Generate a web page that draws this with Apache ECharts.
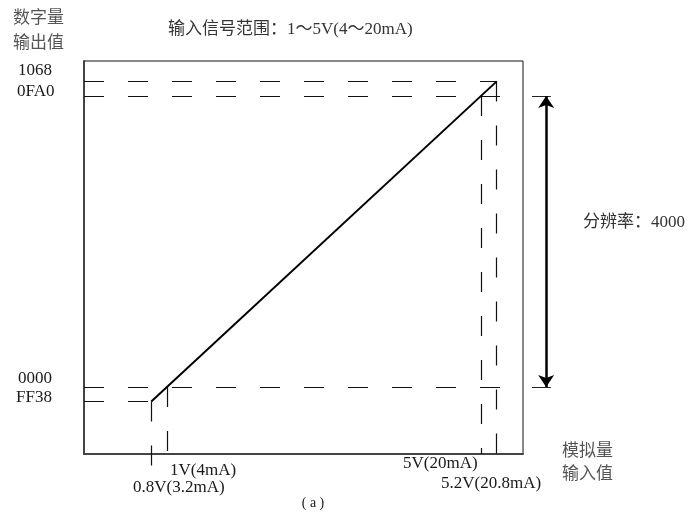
<!DOCTYPE html>
<html>
<head>
<meta charset="utf-8">
<script src="https://cdn.jsdelivr.net/npm/echarts@6/dist/echarts.min.js"></script>
<style>
  html, body { margin: 0; padding: 0; background: #fff; }
  #chart { width: 696px; height: 517px; }
</style>
</head>
<body>
<div id="chart"></div>
<script>
// values: input in volts, output as signed count
var voltPoints = [0.8, 1, 5, 5.2];
var voltLabels = ['0.8V(3.2mA)', '1V(4mA)', '5V(20mA)', '5.2V(20.8mA)'];
var codePoints = [-200, 0, 4000, 4200];
var codeLabels = ['FF38', '0000', '0FA0', '1068'];
var transferLine = [[0.8, -200], [5.2, 4200]];
var resolution = [0, 4000];

// axis window of the drawing box
var X_MIN = -0.057, X_MAX = 5.535;
var Y_MIN = -920, Y_MAX = 4480;

// how far each guide runs (horizontal: x end; vertical: y end)
var hGuideEnd = [0.8, 5.32, 5.32, 5.2];
var vGuideEnd = [-1100, Y_MIN, Y_MIN, -976];
var ARROW_X = 5.83, TICK_X0 = 5.65, TICK_X1 = 5.89;

function buildGuides() {
	var segs = [];
	for (var i = 0; i < codePoints.length; i++) {
		segs.push({coords: [[X_MIN, codePoints[i]], [hGuideEnd[i], codePoints[i]]]});
	}
	// verticals start on the transfer line and run down
	for (var j = 0; j < voltPoints.length; j++) {
		var v = voltPoints[j];
		var yStart = transferLine[0][1] + (v - transferLine[0][0]) *
			(transferLine[1][1] - transferLine[0][1]) / (transferLine[1][0] - transferLine[0][0]);
		segs.push({coords: [[v, yStart], [v, vGuideEnd[j]]]});
	}
	return segs;
}

function txt(text, x, y, size, family, align, color) {
	return {
		type: 'text', x: x, y: y, silent: true,
		style: {
			text: text, fill: color || '#1a1a1a', fontSize: size,
			fontFamily: family, align: align || 'left', verticalAlign: 'middle'
		}
	};
}

var CN = '"Noto Sans CJK SC"';
var SERIF = '"Liberation Serif", "Noto Sans CJK SC"';
var GREY = '#555';

var chart = echarts.init(document.getElementById('chart'));

var option = {
	animation: false,
	grid: {
		left: 84, top: 61, right: 173, bottom: 63,
		show: true, borderColor: '#111', borderWidth: 1, backgroundColor: 'transparent'
	},
	xAxis: {
		type: 'value', min: X_MIN, max: X_MAX,
		axisLine: {show: true, onZero: false, lineStyle: {color: '#444', width: 2}},
		axisTick: {show: false}, axisLabel: {show: false}, splitLine: {show: false}
	},
	yAxis: {
		type: 'value', min: Y_MIN, max: Y_MAX,
		axisLine: {show: true, onZero: false, lineStyle: {color: '#444', width: 2}},
		axisTick: {show: false}, axisLabel: {show: false}, splitLine: {show: false}
	},
	series: [
		{
			name: 'guides',
			type: 'lines',
			coordinateSystem: 'cartesian2d',
			clip: false,
			silent: true,
			lineStyle: {color: '#111', width: 1.2, opacity: 1, type: [20, 24]},
			data: buildGuides()
		},
		{
			name: 'transfer',
			type: 'lines',
			coordinateSystem: 'cartesian2d',
			clip: false,
			silent: true,
			lineStyle: {color: '#000', width: 2, opacity: 1, type: 'solid'},
			data: [{coords: transferLine}]
		},
		{
			name: 'ticks',
			type: 'lines',
			coordinateSystem: 'cartesian2d',
			clip: false,
			silent: true,
			lineStyle: {color: '#222', width: 1, opacity: 1},
			data: [
				{coords: [[TICK_X0, resolution[1]], [TICK_X1, resolution[1]]]},
				{coords: [[TICK_X0, resolution[0]], [TICK_X1, resolution[0]]]}
			]
		},
		{
			name: 'arrow',
			type: 'lines',
			coordinateSystem: 'cartesian2d',
			clip: false,
			silent: true,
			symbol: ['arrow', 'arrow'],
			symbolSize: 12,
			lineStyle: {color: '#000', width: 2.5, opacity: 1},
			data: [{coords: [[ARROW_X, resolution[0]], [ARROW_X, resolution[1]]]}]
		}
	],
	graphic: [
		txt('数字量', 13, 17, 17, CN, 'left', GREY),
		txt('输出值', 13, 42, 17, CN, 'left', GREY),
		txt('输入信号范围：1～5V(4～20mA)', 168, 30, 17, SERIF, 'left', '#333'),
		txt(codeLabels[3], 18, 71, 17, SERIF),
		txt(codeLabels[2], 17, 92, 17, SERIF),
		txt(codeLabels[1], 18, 379, 17, SERIF),
		txt(codeLabels[0], 16, 398, 17, SERIF),
		txt(voltLabels[1], 170, 471, 17, SERIF),
		txt(voltLabels[0], 133, 488, 17, SERIF),
		txt(voltLabels[2], 403, 464, 17, SERIF),
		txt(voltLabels[3], 441, 484, 17, SERIF),
		txt('模拟量', 562, 450, 17, CN, 'left', GREY),
		txt('输入值', 562, 473, 17, CN, 'left', GREY),
		txt('分辨率：' + (resolution[1] - resolution[0]), 583, 223, 17, SERIF, 'left', '#333'),
		txt('( a )', 313, 503, 14, SERIF, 'center')
	]
};

chart.setOption(option);
</script>
</body>
</html>
